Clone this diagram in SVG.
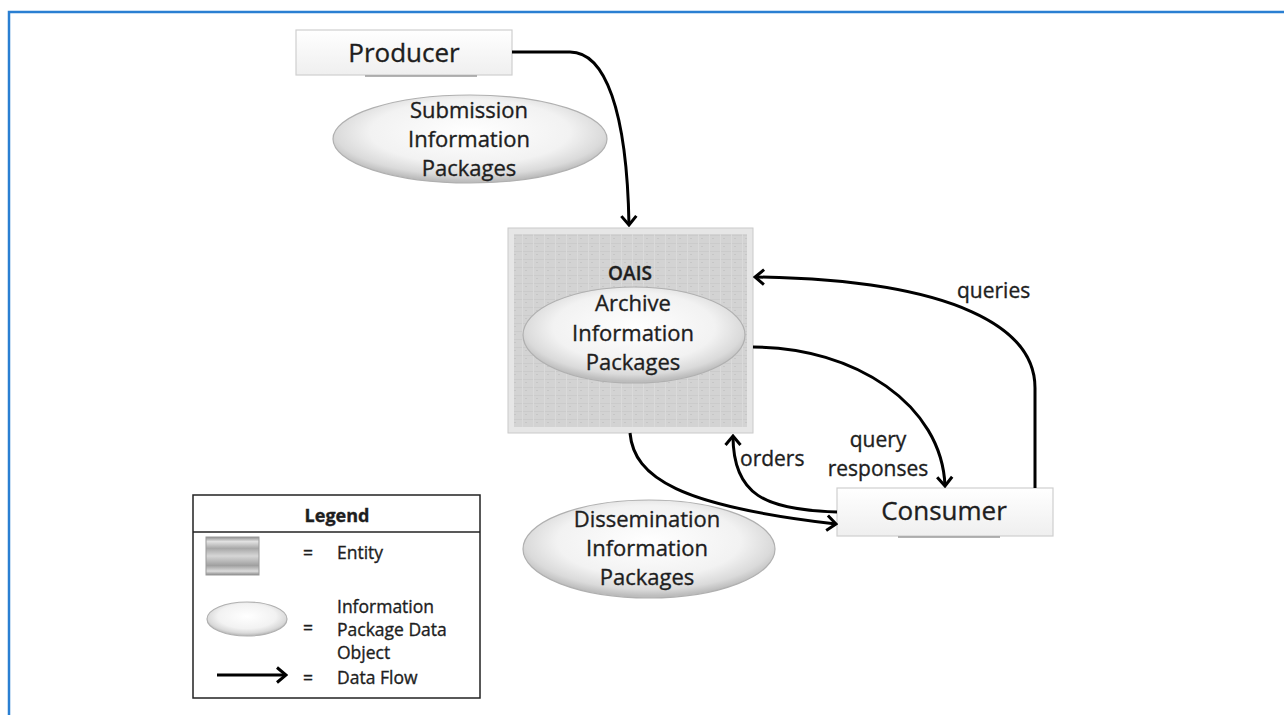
<svg xmlns="http://www.w3.org/2000/svg" width="1284" height="715" viewBox="0 0 1284 715">
<style>
  .t { font-family: "Open Sans", "Liberation Sans", sans-serif; fill: #1e1e1e; stroke: #1e1e1e; stroke-width: 0.35; }
  .big { font-size: 26px; }
  .mid { font-size: 22px; }
  .lab { font-size: 21px; }
  .leg { font-size: 17.5px; }
  .flow { fill: none; stroke: #000; stroke-width: 3; }
  .pkg { fill: url(#ellG); stroke: #b0b0b0; stroke-width: 1.2; }
  .ent { fill: url(#boxG); stroke: #cfcfcf; stroke-width: 1.2; }
</style>
<defs>
  <radialGradient id="ellG" cx="0.5" cy="0.42" r="0.56">
    <stop offset="0" stop-color="#ffffff"/>
    <stop offset="0.65" stop-color="#f2f2f2"/>
    <stop offset="0.88" stop-color="#dadada"/>
    <stop offset="1" stop-color="#bdbdbd"/>
  </radialGradient>
  <linearGradient id="boxG" x1="0" y1="0" x2="0" y2="1">
    <stop offset="0" stop-color="#ffffff"/>
    <stop offset="1" stop-color="#efefef"/>
  </linearGradient>
  <linearGradient id="legEnt" x1="0" y1="0" x2="0" y2="1">
    <stop offset="0" stop-color="#8f8f8f"/>
    <stop offset="0.12" stop-color="#e2e2e2"/>
    <stop offset="0.3" stop-color="#a8a8a8"/>
    <stop offset="0.5" stop-color="#d6d6d6"/>
    <stop offset="0.75" stop-color="#a0a0a0"/>
    <stop offset="0.9" stop-color="#dcdcdc"/>
    <stop offset="1" stop-color="#8a8a8a"/>
  </linearGradient>
  <pattern id="tex" width="11" height="8" patternUnits="userSpaceOnUse">
    <rect width="11" height="8" fill="#d3d3d3"/>
    <rect x="0" y="3" width="11" height="1" fill="#cbcbcb"/>
    <rect x="5" y="0" width="1" height="8" fill="#dadada"/>
    <rect x="8" y="6" width="2" height="1" fill="#c6c6c6"/>
  </pattern>
  <marker id="arr" viewBox="-12 -10 14 20" markerWidth="14" markerHeight="20" refX="0" refY="0" orient="auto" markerUnits="userSpaceOnUse">
    <path d="M-9,-7.5 L0,0 L-9,7.5" fill="none" stroke="#000" stroke-width="3" stroke-linejoin="miter"/>
  </marker>
</defs>

<rect width="1284" height="715" fill="#ffffff"/>
<path d="M9,715 V12 H1284" fill="none" stroke="#2a7fd2" stroke-width="2.5"/>

<g id="producer">
  <rect class="ent" x="296" y="30" width="216" height="45"/>
  <line x1="365" y1="76" x2="477" y2="76" stroke="#9a9a9a" stroke-width="1.5"/>
  <text class="t big" x="404" y="62" text-anchor="middle">Producer</text>
</g>

<g id="sip">
  <ellipse class="pkg" cx="470" cy="139" rx="137" ry="44"/>
  <text class="t mid" x="469" y="118" text-anchor="middle">Submission</text>
  <text class="t mid" x="469" y="147" text-anchor="middle">Information</text>
  <text class="t mid" x="469" y="176" text-anchor="middle">Packages</text>
</g>

<g id="oais">
  <rect x="508" y="228" width="245" height="205" fill="#e6e6e6" stroke="#cacaca" stroke-width="1"/>
  <rect x="514" y="234" width="233" height="193" fill="url(#tex)"/>
  <text class="t" x="630" y="280" text-anchor="middle" font-size="19" font-weight="600">OAIS</text>
</g>

<g id="aip">
  <ellipse class="pkg" cx="634" cy="335" rx="111" ry="48"/>
  <text class="t mid" x="633" y="311" text-anchor="middle">Archive</text>
  <text class="t mid" x="633" y="341" text-anchor="middle">Information</text>
  <text class="t mid" x="633" y="370" text-anchor="middle">Packages</text>
</g>

<g id="dip">
  <ellipse class="pkg" cx="649" cy="549" rx="126" ry="49"/>
  <text class="t mid" x="647" y="527" text-anchor="middle">Dissemination</text>
  <text class="t mid" x="647" y="556" text-anchor="middle">Information</text>
  <text class="t mid" x="647" y="585" text-anchor="middle">Packages</text>
</g>

<g id="consumer">
  <rect class="ent" x="837" y="488" width="216" height="48"/>
  <line x1="898" y1="537" x2="1000" y2="537" stroke="#9a9a9a" stroke-width="1.5"/>
  <text class="t big" x="944" y="520" text-anchor="middle">Consumer</text>
</g>

<g id="connectors">
  <path class="flow" marker-end="url(#arr)" d="M512,52 H570 C605,52 627,110 629,225"/>
  <path class="flow" marker-end="url(#arr)" d="M1035,488 V388 C1035,330 960,280 755,277"/>
  <path class="flow" marker-end="url(#arr)" d="M753,347 C855,347 942,405 945,486"/>
  <path class="flow" marker-end="url(#arr)" d="M837,512 C765,510 733,495 733,436"/>
  <path class="flow" marker-end="url(#arr)" d="M630,433 C634,478 680,506 836,524"/>
  <text class="t lab" x="957" y="298">queries</text>
  <text class="t lab" x="878" y="447" text-anchor="middle">query</text>
  <text class="t lab" x="878" y="476" text-anchor="middle">responses</text>
  <text class="t lab" x="740" y="466">orders</text>
</g>

<g id="legend">
  <rect x="193" y="495" width="287" height="203" fill="#fff" stroke="#222" stroke-width="1.5"/>
  <line x1="193" y1="532" x2="480" y2="532" stroke="#222" stroke-width="1.5"/>
  <text class="t" x="337" y="522" text-anchor="middle" font-size="18" font-weight="700">Legend</text>
  <rect x="206" y="537" width="53" height="38" fill="url(#legEnt)" stroke="#9a9a9a" stroke-width="1"/>
  <text class="t leg" x="308" y="559" text-anchor="middle">=</text>
  <text class="t leg" x="337" y="559">Entity</text>
  <ellipse class="pkg" cx="247" cy="619" rx="40" ry="17"/>
  <text class="t leg" x="308" y="634" text-anchor="middle">=</text>
  <text class="t leg" x="337" y="613">Information</text>
  <text class="t leg" x="337" y="636">Package Data</text>
  <text class="t leg" x="337" y="659">Object</text>
  <path class="flow" marker-end="url(#arr)" d="M217,675 H286"/>
  <text class="t leg" x="308" y="684" text-anchor="middle">=</text>
  <text class="t leg" x="337" y="684">Data Flow</text>
</g>
</svg>
